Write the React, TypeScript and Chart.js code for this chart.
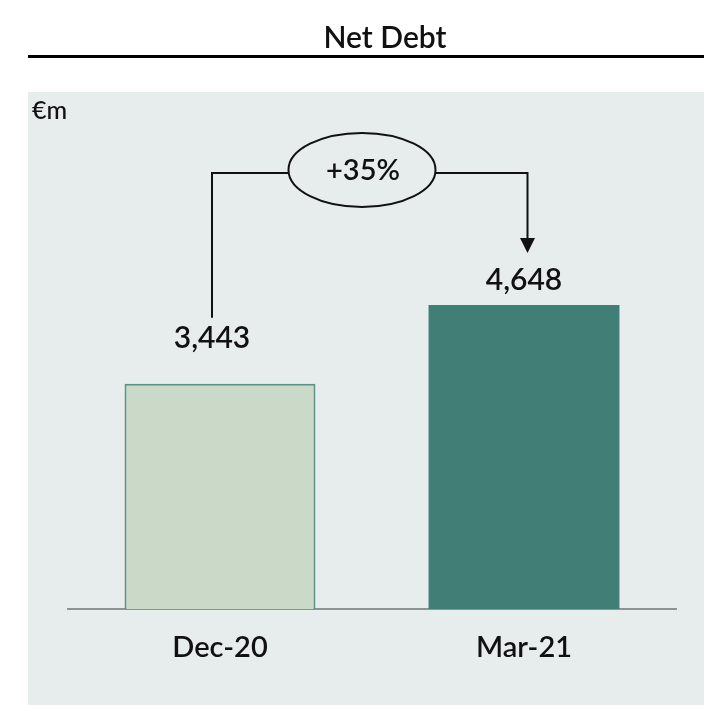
import React, { useEffect, useRef } from "react";
import { Chart, registerables } from "chart.js";

Chart.register(...registerables);

const CATEGORIES = ["Dec-20", "Mar-21"];
const NET_DEBT = [3443, 4648];
const TITLE = "Net Debt";
const UNIT = "€m";
const Y_MAX = 7000;

const FONT = "Lato, 'Open Sans', sans-serif";
const PANEL = "#e7ecec";
const INK = "#111111";

const fmt = (v: number) => v.toLocaleString("en-US");

const decorPlugin = {
  id: "decor",
  beforeDraw(chart: any) {
    const ctx = chart.ctx as CanvasRenderingContext2D;
    ctx.save();
    ctx.fillStyle = PANEL;
    ctx.fillRect(28, 92, 676, 613);
    ctx.fillStyle = "#000000";
    ctx.fillRect(28, 55, 676, 3);
    ctx.fillStyle = INK;
    ctx.font = `600 30px ${FONT}`;
    ctx.textAlign = "center";
    ctx.textBaseline = "alphabetic";
    ctx.fillText(TITLE, 385, 48);
    ctx.font = `500 25px ${FONT}`;
    ctx.textAlign = "left";
    ctx.fillText(UNIT, 32, 119);
    ctx.restore();
  },
  afterDatasetsDraw(chart: any) {
    const ctx = chart.ctx as CanvasRenderingContext2D;
    const meta = chart.getDatasetMeta(0);
    const b1 = meta.data[0];
    const b2 = meta.data[1];
    const values = chart.data.datasets[0].data as number[];

    const x1 = b1.x - 8;
    const ly1 = b1.y - 45;
    const x2 = b2.x + 3.5;
    const ly2 = b2.y - 24.5;

    ctx.save();
    ctx.fillStyle = INK;
    ctx.font = `600 30px ${FONT}`;
    ctx.textAlign = "center";
    ctx.textBaseline = "middle";
    ctx.fillText(fmt(values[0]), x1, ly1);
    ctx.fillText(fmt(values[1]), b2.x, ly2);

    // change bracket
    const levelY = b2.y - 132;
    const cx = (b1.x + b2.x) / 2 - 10;
    const cy = levelY - 3;
    const rx = 73.5;
    const ry = 37;
    const tipY = ly2 - 27.5;

    ctx.strokeStyle = INK;
    ctx.lineWidth = 2;
    ctx.beginPath();
    ctx.moveTo(x1, ly1 - 21);
    ctx.lineTo(x1, levelY);
    ctx.lineTo(cx, levelY);
    ctx.moveTo(cx, levelY);
    ctx.lineTo(x2, levelY);
    ctx.lineTo(x2, tipY - 14);
    ctx.stroke();

    ctx.beginPath();
    ctx.moveTo(x2 - 7.5, tipY - 15);
    ctx.lineTo(x2 + 7.5, tipY - 15);
    ctx.lineTo(x2, tipY);
    ctx.closePath();
    ctx.fill();

    ctx.beginPath();
    ctx.ellipse(cx, cy, rx, ry, 0, 0, Math.PI * 2);
    ctx.fillStyle = PANEL;
    ctx.fill();
    ctx.stroke();

    const pct = Math.round((values[1] / values[0] - 1) * 100);
    ctx.fillStyle = INK;
    ctx.font = `600 29px ${FONT}`;
    ctx.fillText(`+${pct}%`, cx + 1, cy + 1);
    ctx.restore();
  },
};

export default function App() {
  const ref = useRef<HTMLCanvasElement | null>(null);

  useEffect(() => {
    if (!ref.current) return;
    const chart = new Chart(ref.current, {
      type: "bar",
      data: {
        labels: CATEGORIES,
        datasets: [
          {
            data: NET_DEBT,
            backgroundColor: ["#cbd9c8", "#407e76"],
            borderColor: ["#5a9488", "#407e76"],
            borderWidth: [2, 0] as any,
            barPercentage: 0.628,
            categoryPercentage: 1,
          },
        ],
      },
      options: {
        animation: false,
        responsive: false,
        maintainAspectRatio: false,
        layout: { padding: { left: 68, right: 28, top: 151, bottom: 0 } },
        plugins: {
          legend: { display: false },
          tooltip: { enabled: false },
          title: { display: false },
        },
        scales: {
          x: {
            grid: { display: false, drawTicks: false },
            border: { display: true, color: "#8e9393", width: 2 },
            ticks: {
              color: INK,
              padding: 21,
              font: { family: FONT, size: 29, weight: "600" as any },
            },
            afterFit: (scale: any) => {
              scale.height = 96;
            },
          },
          y: {
            display: false,
            min: 0,
            max: Y_MAX,
          },
        },
      },
      plugins: [decorPlugin],
    });
    return () => chart.destroy();
  }, []);

  return (
    <canvas
      ref={ref}
      width={704}
      height={705}
      style={{ position: "fixed", left: 0, top: 0, width: 704, height: 705 }}
    />
  );
}
